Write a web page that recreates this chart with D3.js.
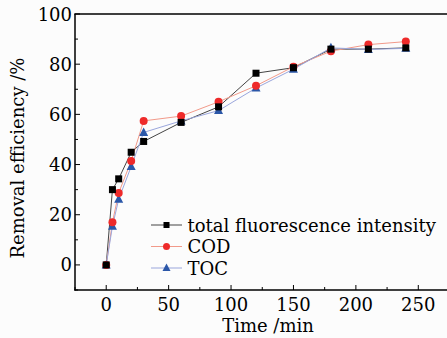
<!DOCTYPE html>
<html><head><meta charset="utf-8">
<script src="https://cdn.jsdelivr.net/npm/d3@7"></script>
<style>body{margin:0;background:#fcfcfc}svg{display:block}</style>
</head><body>
<script>
const times = [0, 5, 10, 20, 30, 60, 90, 120, 150, 180, 210, 240];
const fluorescence = [0, 30.0, 34.3, 44.9, 49.2, 56.8, 63.0, 76.4, 78.6, 86.0, 86.0, 86.5];
const cod = [0, 17.0, 28.7, 41.4, 57.4, 59.3, 65.0, 71.4, 79.0, 85.2, 87.8, 89.0];
const toc = [0, 15.4, 26.2, 39.2, 52.8, 57.4, 61.5, 70.5, 78.0, 86.5, 85.9, 86.3];
const xTicks = [0, 50, 100, 150, 200, 250];
const yTicks = [0, 20, 40, 60, 80, 100];
const seriesNames = ["total fluorescence intensity", "COD", "TOC"];

const W = 447, H = 338;
const font = "DejaVu Serif";
const fs = 18;
const svg = d3.select("body").append("svg").attr("width", W).attr("height", H);
const x = d3.scaleLinear().domain([-25, 275]).range([75, 449.5]);
const y = d3.scaleLinear().domain([-10, 100]).range([290, 14]);

const series = [
  {name: seriesNames[0], vals: fluorescence, color: "#000", line: "#444", shape: "square"},
  {name: seriesNames[1], vals: cod, color: "#ee2a2a", line: "#f29a8a", shape: "circle"},
  {name: seriesNames[2], vals: toc, color: "#2b57a8", line: "#9aa6dc", shape: "triangle"}
];

const g = svg.append("g");
const xMinor = d3.range(-25, 276, 25);
const yMinor = d3.range(-10, 101, 10);
g.selectAll(".xt").data(xMinor).join("line")
  .attr("x1", d => x(d)).attr("x2", d => x(d))
  .attr("y1", 290).attr("y2", d => 290 - (d % 50 === 0 ? 5 : 3))
  .attr("stroke", "#000").attr("stroke-width", 1);
g.selectAll(".yt").data(yMinor).join("line")
  .attr("y1", d => y(d)).attr("y2", d => y(d))
  .attr("x1", 75).attr("x2", d => 75 + (d % 20 === 0 ? 5 : 3))
  .attr("stroke", "#000").attr("stroke-width", 1);
g.append("line").attr("x1", 75).attr("x2", 75).attr("y1", 14).attr("y2", 290.5).attr("stroke", "#000").attr("stroke-width", 1.5);
g.append("line").attr("x1", 74.3).attr("x2", W).attr("y1", 290).attr("y2", 290).attr("stroke", "#000").attr("stroke-width", 1.5);
g.append("line").attr("x1", 74.3).attr("x2", W).attr("y1", 14).attr("y2", 14).attr("stroke", "#000").attr("stroke-width", 1.5);

g.selectAll(".xl").data(xTicks).join("text")
  .attr("x", d => x(d)).attr("y", 311).attr("text-anchor", "middle")
  .attr("font-family", font).attr("font-size", fs).text(d => d);
g.selectAll(".yl").data(yTicks).join("text")
  .attr("x", 72).attr("y", d => y(d) + 6.5).attr("text-anchor", "end")
  .attr("font-family", font).attr("font-size", fs).text(d => d);

svg.append("text").attr("x", 268).attr("y", 332).attr("text-anchor", "middle")
  .attr("font-family", font).attr("font-size", fs).text("Time /min");
svg.append("text").attr("transform", "translate(24,158) rotate(-90)").attr("text-anchor", "middle")
  .attr("font-family", font).attr("font-size", fs).text("Removal efficiency /%");

function marker(sel, shape, color, cx, cy, s) {
  if (shape === "square") sel.append("rect").attr("x", cx - s/2).attr("y", cy - s/2).attr("width", s).attr("height", s).attr("fill", color);
  else if (shape === "circle") sel.append("circle").attr("cx", cx).attr("cy", cy).attr("r", s/2 + 0.5).attr("fill", color);
  else sel.append("path").attr("d", `M${cx},${cy - s/2 - 1.5}L${cx + s/2 + 1},${cy + s/2}L${cx - s/2 - 1},${cy + s/2}Z`).attr("fill", color);
}

const line = d3.line().x((d, i) => x(times[i])).y(d => y(d));
series.forEach(s => {
  svg.append("path").datum(s.vals).attr("d", line).attr("fill", "none").attr("stroke", s.line).attr("stroke-width", 1);
});
series.slice().reverse().forEach(s => {
  const gg = svg.append("g");
  s.vals.forEach((v, i) => marker(gg, s.shape, s.color, x(times[i]), y(v), 7));
});

series.forEach((s, i) => {
  const ly = 225 + i * 21.5;
  svg.append("line").attr("x1", 151).attr("x2", 182).attr("y1", ly).attr("y2", ly).attr("stroke", s.line).attr("stroke-width", 1);
  marker(svg, s.shape, s.color, 166.5, ly, 6);
  svg.append("text").attr("x", 187.5).attr("y", ly + 6.5).attr("font-family", font).attr("font-size", fs).text(s.name);
});
</script>
</body></html>
